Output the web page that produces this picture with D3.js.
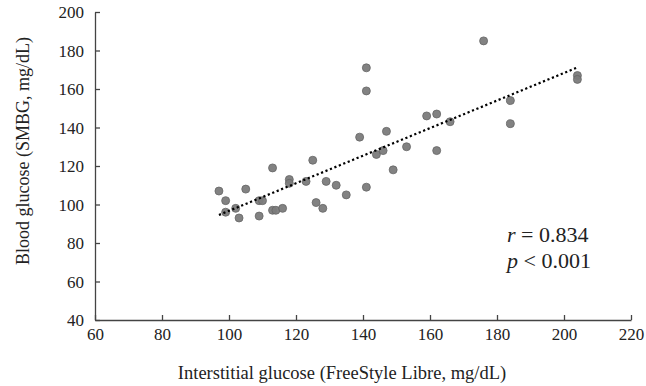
<!DOCTYPE html>
<html>
<head>
<meta charset="utf-8">
<script src="https://cdn.jsdelivr.net/npm/d3@7"></script>
<style>
  body { margin: 0; background: #fff; }
  text { font-family: "Liberation Serif", "Times New Roman", serif; fill: #222; }
</style>
</head>
<body>
<div id="main"></div>
<script>
// interstitial glucose (FreeStyle Libre) vs blood glucose (SMBG), mg/dL
var libre = [97, 99, 99, 102, 103, 105, 109, 110, 109, 113, 113, 114, 116, 118, 118,
  123, 125, 126, 128, 129, 132, 135, 141, 144, 141, 141, 139, 147, 146, 149, 153,
  159, 162, 162, 166, 176, 184, 184, 204, 204];
var smbg = [107, 102, 96, 98, 93, 108, 102, 102, 94, 119, 97, 97, 98, 113, 111,
  112, 123, 101, 98, 112, 110, 105, 109, 126, 171, 159, 135, 138, 128, 118, 130,
  146, 147, 128, 143, 185, 154, 142, 167, 165];
var xTicks = [60, 80, 100, 120, 140, 160, 180, 200, 220];
var yTicks = [40, 60, 80, 100, 120, 140, 160, 180, 200];
var stats = ["0.834", "0.001"];

var W = 646, H = 386;
var margin = { top: 12, right: 15, bottom: 66, left: 95 };
var FONT = "'Liberation Serif', 'Times New Roman', serif";

var svg = d3.select("#main")
  .append("svg")
  .attr("width", W)
  .attr("height", H);

var x = d3.scaleLinear()
  .domain([60, 220])
  .range([margin.left, 631]);

var y = d3.scaleLinear()
  .domain([40, 200])
  .range([320, margin.top]);

// axes, ticks inside
var xAxis = svg.append("g")
  .attr("transform", "translate(0,320)")
  .call(d3.axisBottom(x).tickValues(xTicks).tickSizeInner(-5).tickSizeOuter(0).tickPadding(12));

var yAxis = svg.append("g")
  .attr("transform", "translate(" + margin.left + ",0)")
  .call(d3.axisLeft(y).tickValues(yTicks).tickSizeInner(-5).tickSizeOuter(0).tickPadding(11));

[xAxis, yAxis].forEach(function(a) {
  a.attr("font-family", FONT).attr("font-size", 17);
  a.select(".domain").attr("stroke", "#444").attr("stroke-width", 1.3);
  a.selectAll(".tick line").attr("stroke", "#444").attr("stroke-width", 1.3);
  a.selectAll(".tick text").attr("fill", "#222");
});
xAxis.selectAll(".tick text").attr("dy", "0.45em");
yAxis.selectAll(".tick text").attr("dy", "0.33em");

// least squares trend line
var n = libre.length;
var mx = d3.mean(libre), my = d3.mean(smbg);
var sxy = 0, sxx = 0;
for (var i = 0; i < n; i++) {
  sxy += (libre[i] - mx) * (smbg[i] - my);
  sxx += (libre[i] - mx) * (libre[i] - mx);
}
var slope = sxy / sxx, icpt = my - slope * mx;
var ext = d3.extent(libre);

svg.selectAll(".pt")
  .data(libre)
  .enter()
  .append("circle")
  .attr("class", "pt")
  .attr("cx", d => x(d))
  .attr("cy", (d, i) => y(smbg[i]))
  .attr("r", 4)
  .attr("fill", "#7b7b7b")
  .attr("fill-opacity", 0.95)
  .attr("stroke", "#666")
  .attr("stroke-width", 0.8);

svg.append("path")
  .attr("d", d3.line()(ext.map(v => [x(v), y(icpt + slope * v)])))
  .attr("fill", "none")
  .attr("stroke", "#000")
  .attr("stroke-width", 2.2)
  .attr("stroke-dasharray", "2.2,2.6");

// axis titles
svg.append("text")
  .attr("x", 342)
  .attr("y", 379)
  .attr("text-anchor", "middle")
  .style("font-size", "18.5px")
  .text("Interstitial glucose (FreeStyle Libre, mg/dL)");

svg.append("text")
  .attr("transform", "translate(29,151) rotate(-90)")
  .attr("text-anchor", "middle")
  .style("font-size", "18px")
  .text("Blood glucose (SMBG, mg/dL)");

// correlation annotation
var t1 = svg.append("text").attr("x", 507).attr("y", 242).style("font-size", "22px");
t1.append("tspan").style("font-style", "italic").text("r");
t1.append("tspan").text(" = " + stats[0]);
var t2 = svg.append("text").attr("x", 507).attr("y", 268).style("font-size", "22px");
t2.append("tspan").style("font-style", "italic").text("p");
t2.append("tspan").text(" < " + stats[1]);
</script>
</body>
</html>
